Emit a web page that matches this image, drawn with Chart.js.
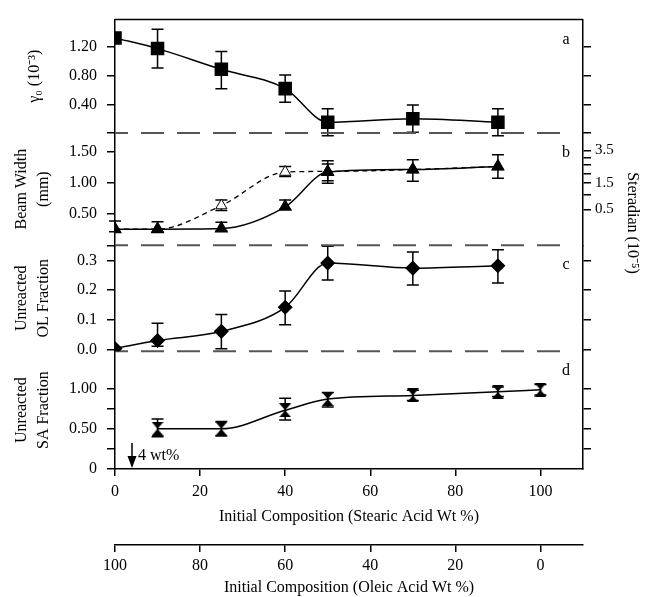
<!DOCTYPE html>
<html>
<head>
<meta charset="utf-8">
<script src="https://cdn.jsdelivr.net/npm/chart.js@4/dist/chart.umd.min.js"></script>
<style>
  body { margin: 0; background: #fff; }
  #wrap { width: 646px; height: 597px; position: relative; }
</style>
</head>
<body>
<div id="wrap"><canvas id="myChart"></canvas></div>
<script>
// x positions (stearic acid wt %)
const stearic = [0, 10, 25, 40, 50, 70, 90];
const stearicSA = [10, 25, 40, 50, 70, 90, 100];

// a) gamma0 (10^-3)
const gamma = [1.33, 1.18, 0.89, 0.62, 0.15, 0.20, 0.15];
const gammaHi = [null, 1.45, 1.14, 0.81, 0.34, 0.39, 0.34];
const gammaLo = [null, 0.91, 0.62, 0.43, -0.04, 0.01, -0.04];

// b) beam width (mm), filled + open triangles
const beam = [0.26, 0.26, 0.27, 0.62, 1.18, 1.22, 1.27];
const beamHi = [0.39, 0.38, 0.37, 0.73, 1.36, 1.38, 1.46];
const beamLo = [0.22, 0.22, 0.23, 0.58, 1.00, 1.03, 1.08];
const beamOpen = [0.26, 0.26, 0.64, 1.18, 1.19, 1.22, 1.27];
const beamOpenHi = [null, null, 0.73, 1.27, 1.31, null, null];
const beamOpenLo = [null, null, 0.56, 1.11, 1.04, null, null];

// c) unreacted OL fraction
const olFrac = [0.003, 0.03, 0.061, 0.142, 0.291, 0.274, 0.282];
const olHi = [null, 0.088, 0.118, 0.197, 0.348, 0.328, 0.336];
const olLo = [null, 0.011, 0.002, 0.083, 0.234, 0.217, 0.224];

// d) unreacted SA fraction
const saFrac = [0.50, 0.50, 0.73, 0.87, 0.915, 0.96, 0.985];
const saHi = [0.62, 0.59, 0.88, 0.95, 0.98, 1.02, 1.05];
const saLo = [0.40, 0.41, 0.61, 0.77, 0.85, 0.90, 0.92];

// ticks
const xTicks = [0, 20, 40, 60, 80, 100];
const aTicks = [0, 0.4, 0.8, 1.2];
const bTicks = [0, 0.5, 1.0, 1.5];
const cTicks = [0, 0.1, 0.2, 0.3];
const dTicks = [0, 0.25, 0.5, 0.75, 1.0];
const dRightTicks = [0.25, 0.5, 0.75, 1.0];
const steradianTicks = [0.5, 1, 1.5, 2, 2.5, 3, 3.5];
const steradianLabels = [0.5, 1.5, 3.5];
const steradianPerMm2 = 1.5;

const serif = '"Liberation Serif", "Times New Roman", serif';
const fs = 16;

function pts(xs, ys) {
  return xs.map((x, i) => ({x: x, y: ys[i]}));
}

// hourglass marker for panel d
function hourglass(w, h) {
  const c = document.createElement('canvas');
  c.width = w; c.height = h;
  const g = c.getContext('2d');
  g.fillStyle = '#000';
  g.beginPath();
  g.moveTo(0, 0); g.lineTo(w, 0); g.lineTo(w / 2, h / 2);
  g.lineTo(w, h); g.lineTo(0, h); g.lineTo(w / 2, h / 2);
  g.closePath();
  g.fill();
  return c;
}

function leftAxis(min, max, weight, stackWeight, ticks, label, title, titlePad) {
  return {
    type: 'linear', position: 'left', stack: 'L', stackWeight: stackWeight, weight: weight,
    min: min, max: max,
    afterBuildTicks: s => { s.ticks = ticks.map(v => ({value: v})); },
    afterFit: s => { s.width = 115; },
    grid: {drawOnChartArea: false, tickLength: 8, color: '#000', lineWidth: 1.5},
    border: {color: '#000', width: 1.5},
    ticks: {color: '#000', font: {family: serif, size: fs}, padding: 10, autoSkip: false, callback: label},
    title: {display: true, text: title, color: '#000',
      font: {family: serif, size: fs, lineHeight: 1.35}, padding: {top: titlePad, bottom: 0}}
  };
}

function rightAxis(min, max, weight, stackWeight, ticks, label) {
  return {
    type: 'linear', position: 'right', stack: 'R', stackWeight: stackWeight, weight: weight,
    min: min, max: max,
    afterBuildTicks: s => { s.ticks = ticks.map(v => ({value: v})); },
    afterFit: s => { s.width = 63; },
    grid: {drawOnChartArea: false, tickLength: 8, color: '#000', lineWidth: 1.5},
    border: {color: '#000', width: 1.5},
    ticks: {color: '#000', font: {family: serif, size: 15}, padding: 4, autoSkip: false,
      callback: label || (() => '')}
  };
}

const errorBars = {
  id: 'errorBars',
  beforeDatasetsDraw(chart) {
    const ctx = chart.ctx;
    const xs = chart.scales.x;
    chart.data.datasets.forEach(ds => {
      if (!ds.errHi) return;
      const ys = chart.scales[ds.yAxisID];
      ctx.save();
      ctx.strokeStyle = '#000';
      ctx.lineWidth = 1.5;
      ds.data.forEach((p, j) => {
        const hi = ds.errHi[j], lo = ds.errLo[j];
        if (hi == null) return;
        const px = xs.getPixelForValue(p.x);
        const yh = ys.getPixelForValue(hi), yl = ys.getPixelForValue(lo);
        const w = 6;
        ctx.beginPath();
        ctx.moveTo(px, yh); ctx.lineTo(px, yl);
        ctx.moveTo(px - w, yh); ctx.lineTo(px + w, yh);
        ctx.moveTo(px - w, yl); ctx.lineTo(px + w, yl);
        ctx.stroke();
      });
      ctx.restore();
    });
  }
};

const panelDecor = {
  id: 'panelDecor',
  beforeDatasetsDraw(chart) {
    const ctx = chart.ctx, area = chart.chartArea;
    ctx.save();
    // dashed separators between panels
    ctx.strokeStyle = '#555';
    ctx.lineWidth = 2;
    ctx.setLineDash([23, 13]);
    ctx.lineDashOffset = 10;
    ['yA', 'yB', 'yC'].forEach(id => {
      const y = chart.scales[id].bottom;
      ctx.beginPath();
      ctx.moveTo(area.left, y);
      ctx.lineTo(area.right - 20, y);
      ctx.stroke();
    });
    ctx.setLineDash([]);
    // top frame line
    ctx.strokeStyle = '#000';
    ctx.lineWidth = 1.5;
    ctx.beginPath();
    ctx.moveTo(area.left, area.top);
    ctx.lineTo(area.right, area.top);
    ctx.stroke();
    ctx.restore();
  },
  afterDraw(chart) {
    const ctx = chart.ctx, area = chart.chartArea;
    ctx.save();
    ctx.fillStyle = '#000';
    ctx.strokeStyle = '#000';
    ctx.font = fs + 'px ' + serif;
    ctx.textBaseline = 'middle';
    ctx.textAlign = 'center';
    const ids = ['yA', 'yB', 'yC', 'yD'];
    ['a', 'b', 'c', 'd'].forEach((t, i) => {
      ctx.fillText(t, area.right - 17, chart.scales[ids[i]].top + 20);
    });
    // steradian axis title
    ctx.save();
    ctx.translate(632, 223);
    ctx.rotate(Math.PI / 2);
    ctx.fillText('Steradian (10\u207B\u2075)', 0, 0);
    ctx.restore();
    // 4 wt% arrow
    const ax = chart.scales.x.getPixelForValue(4);
    const tip = area.bottom - 1;
    ctx.lineWidth = 1.5;
    ctx.beginPath();
    ctx.moveTo(ax, area.bottom - 26);
    ctx.lineTo(ax, tip - 8);
    ctx.stroke();
    ctx.beginPath();
    ctx.moveTo(ax - 4.5, tip - 12);
    ctx.lineTo(ax + 4.5, tip - 12);
    ctx.lineTo(ax, tip);
    ctx.closePath();
    ctx.fill();
    ctx.textAlign = 'left';
    ctx.fillText('4 wt%', ax + 6, area.bottom - 13);
    ctx.restore();
  }
};

const myChart = document.getElementById('myChart');

new Chart(myChart, {
  type: 'line',
  data: {
    datasets: [
      {
        data: pts(stearic, gamma), yAxisID: 'yA', errHi: gammaHi, errLo: gammaLo,
        borderColor: '#000', borderWidth: 1.5, cubicInterpolationMode: 'monotone',
        pointStyle: 'rect', pointRadius: 8.5, pointBackgroundColor: '#000', pointBorderColor: '#000'
      },
      {
        data: pts(stearic, beam), yAxisID: 'yB', errHi: beamHi, errLo: beamLo,
        borderColor: '#000', borderWidth: 1.5, cubicInterpolationMode: 'monotone',
        pointStyle: 'triangle', pointRadius: 6.5, pointBackgroundColor: '#000', pointBorderColor: '#000'
      },
      {
        data: pts(stearic, beamOpen), yAxisID: 'yB', errHi: beamOpenHi, errLo: beamOpenLo,
        borderColor: '#000', borderWidth: 1.3, borderDash: [5, 4], cubicInterpolationMode: 'monotone',
        pointStyle: 'triangle', pointRadius: 6.5, pointBackgroundColor: '#fff', pointBorderColor: '#000',
        pointBorderWidth: 1
      },
      {
        data: pts(stearic, olFrac), yAxisID: 'yC', errHi: olHi, errLo: olLo,
        borderColor: '#000', borderWidth: 1.5, cubicInterpolationMode: 'monotone',
        pointStyle: 'rectRot', pointRadius: 6.5, pointBackgroundColor: '#000', pointBorderColor: '#000'
      },
      {
        data: pts(stearicSA, saFrac), yAxisID: 'yD', errHi: saHi, errLo: saLo,
        borderColor: '#000', borderWidth: 1.5, cubicInterpolationMode: 'monotone',
        pointStyle: hourglass(12, 14), pointRadius: 6
      }
    ]
  },
  options: {
    responsive: true,
    maintainAspectRatio: false,
    animation: false,
    layout: {padding: {top: 13, left: 0, right: 0, bottom: 0}},
    plugins: {legend: {display: false}, tooltip: {enabled: false}},
    scales: {
      x: {
        type: 'linear', position: 'bottom', weight: 1, min: 0, max: 110,
        afterBuildTicks: s => { s.ticks = xTicks.map(v => ({value: v})); },
        afterFit: s => { s.height = 76; },
        grid: {drawOnChartArea: false, tickLength: 7, color: '#000', lineWidth: 1.5},
        border: {color: '#000', width: 1.5},
        ticks: {color: '#000', font: {family: serif, size: fs}, padding: 6, maxRotation: 0, autoSkip: false},
        title: {display: true, text: 'Initial Composition (Stearic Acid Wt %)', color: '#000',
          font: {family: serif, size: fs}, padding: {top: 0, bottom: 19}}
      },
      x2: {
        type: 'linear', position: 'bottom', weight: 2, min: -10, max: 100, reverse: true,
        afterBuildTicks: s => { s.ticks = xTicks.map(v => ({value: v})); },
        afterFit: s => { s.height = 52; },
        grid: {drawOnChartArea: false, tickLength: 7, color: '#000', lineWidth: 1.5},
        border: {color: '#000', width: 1.5},
        ticks: {color: '#000', font: {family: serif, size: fs}, padding: 4, maxRotation: 0, autoSkip: false},
        title: {display: true, text: 'Initial Composition (Oleic Acid Wt %)', color: '#000',
          font: {family: serif, size: fs}, padding: {top: 0, bottom: 0}}
      },
      yA: leftAxis(0, 1.586, 4, 115, aTicks, v => v === 0 ? '' : v.toFixed(2), 'γ\u2080 (10\u207B\u00B3)', 24),
      yB: leftAxis(0, 1.81, 3, 114, bTicks, v => v === 0 ? '' : v.toFixed(2), ['Beam Width', '(mm)'], 11),
      yC: leftAxis(-0.006, 0.351, 2, 107.5, cTicks, v => v.toFixed(1), ['Unreacted', 'OL Fraction'], 11),
      yD: leftAxis(0, 1.464, 1, 119.5, dTicks,
        v => v === 0 ? '0' : (v === 0.5 || v === 1 ? v.toFixed(2) : ''), ['Unreacted', 'SA Fraction'], 11),
      rA: rightAxis(0, 1.586, 1, 115, aTicks),
      rB: rightAxis(0, 1.81, 2, 114, steradianTicks.map(s => Math.sqrt(s / steradianPerMm2)), v => {
        const s = Math.round(steradianPerMm2 * v * v * 10) / 10;
        return steradianLabels.includes(s) ? s.toFixed(1) : '';
      }),
      rC: rightAxis(-0.006, 0.351, 3, 107.5, cTicks),
      rD: rightAxis(0, 1.464, 4, 119.5, dRightTicks)
    }
  },
  plugins: [errorBars, panelDecor]
});
</script>
</body>
</html>
